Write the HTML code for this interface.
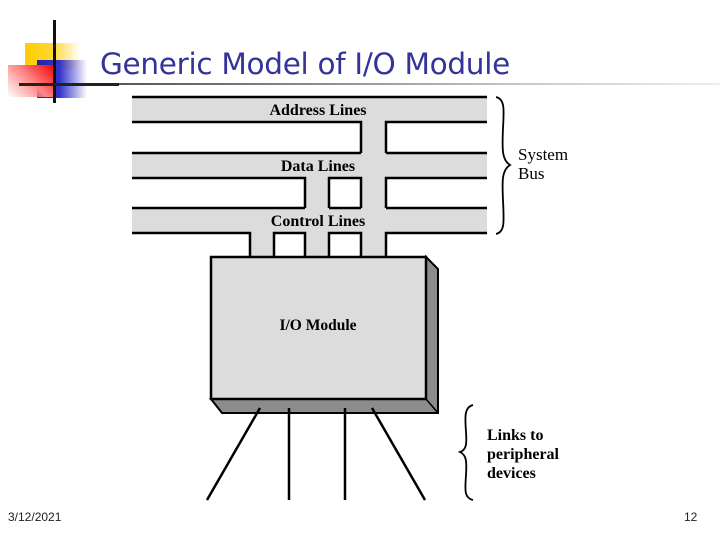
<!DOCTYPE html>
<html><head><meta charset="utf-8"><style>
body{margin:0;width:720px;height:540px;background:#fff;overflow:hidden;position:relative;font-family:"Liberation Sans",sans-serif}
.a{position:absolute}
</style></head><body>
<div class="a" style="left:25px;top:43px;width:55px;height:26px;background:linear-gradient(90deg,#ffcc00 0%,#ffd633 50%,rgba(255,230,150,0) 100%)"></div>
<div class="a" style="left:37px;top:60px;width:50px;height:38px;background:linear-gradient(90deg,#2222aa 0%,#3333cc 45%,rgba(120,120,230,0) 100%)"></div>
<div class="a" style="left:8px;top:65px;width:47px;height:32px;background:linear-gradient(45deg,rgba(255,255,255,0) 0%,#f88 50%,#e00 100%)"></div>
<div class="a" style="left:53px;top:20px;width:3px;height:83px;background:#111"></div>
<div class="a" style="left:19px;top:83px;width:100px;height:3px;background:#222"></div>
<div class="a" style="left:119px;top:83px;width:601px;height:2px;background:linear-gradient(90deg,#555,#ccc 70%,#eee)"></div>
<div class="a" style="left:100px;top:47px;font-family:'DejaVu Sans',sans-serif;font-size:29.5px;color:#333399;white-space:nowrap;letter-spacing:-0.3px">Generic Model of I/O Module</div>
<svg class="a" style="left:0;top:0" width="720" height="540" font-family="Liberation Serif" font-weight="bold">
<g fill="#dcdcdc" stroke="none">
<rect x="132" y="97" width="355" height="25"/><rect x="132" y="153" width="355" height="25"/><rect x="132" y="208" width="355" height="25"/>
<rect x="361" y="122" width="25" height="135"/><rect x="305" y="178" width="24" height="79"/><rect x="250" y="233" width="24" height="24"/>
</g>
<g stroke="#000" stroke-width="2.5" fill="none">
<path d="M132 97H487M132 122H361V153M386 153V122H487"/>
<path d="M132 153H361M386 153H487M132 178H305V208M329 208V178H361V208M386 208V178H487"/>
<path d="M132 208H305M329 208H361M386 208H487M132 233H250V257M274 257V233H305V257M329 257V233H361V257M386 257V233H487"/>
</g>
<polygon points="426,257 438,269 438,413 222,413 211,399 426,399" fill="#8c8c8c" stroke="#000" stroke-width="2"/>
<rect x="211" y="257" width="215" height="142" fill="#dcdcdc" stroke="#000" stroke-width="2.5"/>
<line x1="426" y1="399" x2="438" y2="413" stroke="#000" stroke-width="1.5"/>
<text x="318" y="330" font-size="15.5" text-anchor="middle">I/O Module</text>
<text x="318" y="115" font-size="16" text-anchor="middle">Address Lines</text>
<text x="318" y="171" font-size="16" text-anchor="middle">Data Lines</text>
<text x="318" y="226" font-size="16" text-anchor="middle">Control Lines</text>
<g stroke="#000" stroke-width="2.5" fill="none">
<path d="M260 408L207 500M289 408V500M345 408V500M372 408L425 500"/>
</g>
<g stroke="#000" stroke-width="1.8" fill="none">
<path d="M496 97C505 99 504 110 503 128C502 150 502 160 510 165C502 170 502 180 503 200C504 222 505 232 496 234"/>
<path d="M473 405C464 407 465 418 466 432C467 445 466 450 460 452C466 455 467 460 466 475C465 490 464 498 473 500"/>
</g>
<g font-weight="normal" font-size="17">
<text x="518" y="160">System</text><text x="518" y="179">Bus</text>
</g>
<g font-size="16">
<text x="487" y="440">Links to</text><text x="487" y="459">peripheral</text><text x="487" y="478">devices</text>
</g>
</svg>
<div class="a" style="left:8px;top:510px;font-size:12px;color:#222">3/12/2021</div>
<div class="a" style="left:684px;top:510px;font-size:12px;color:#222">12</div>
</body></html>
